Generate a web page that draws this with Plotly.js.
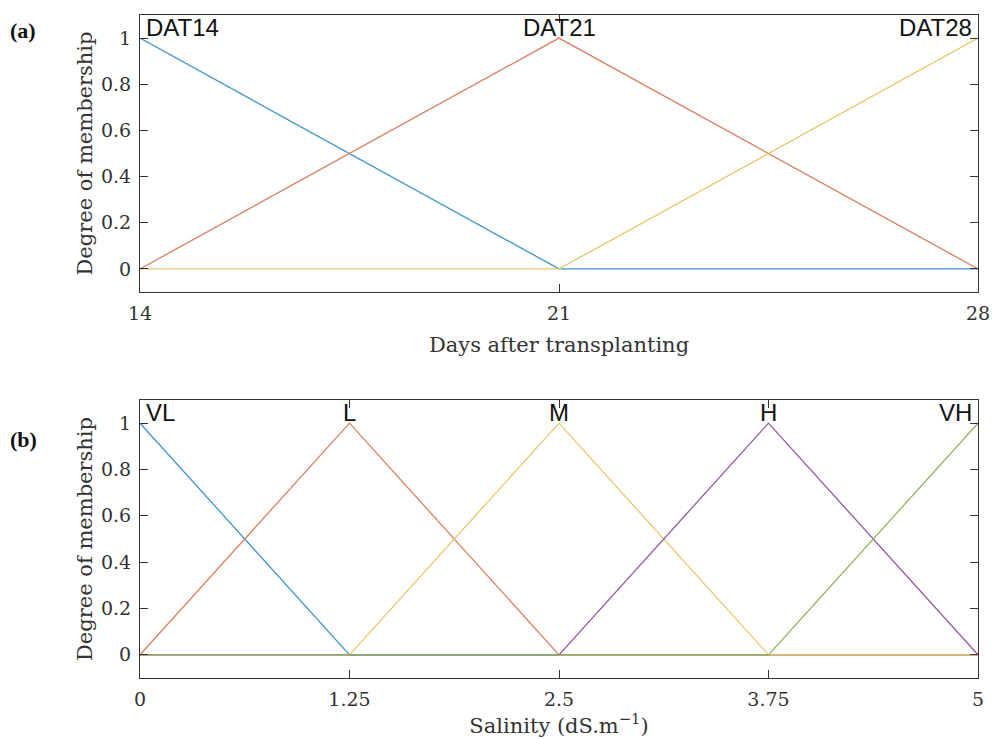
<!DOCTYPE html>
<html><head><meta charset="utf-8">
<script src="https://cdn.plot.ly/plotly-3.0.1.min.js"></script>
<style>html,body{margin:0;padding:0;background:#fff}</style>
</head><body>
<div id="chart" style="width:992px;height:739px"></div>
<script>
// Panel (a): Days after transplanting
const daysX = [14, 21, 28];
const dat14 = [1, 0, 0];
const dat21 = [0, 1, 0];
const dat28 = [0, 0, 1];
const daysNames = ["DAT14", "DAT21", "DAT28"];
const daysTicks = [14, 21, 28];

// Panel (b): Salinity
const salX = [0, 1.25, 2.5, 3.75, 5];
const salVL = [1, 0, 0, 0, 0];
const salL  = [0, 1, 0, 0, 0];
const salM  = [0, 0, 1, 0, 0];
const salH  = [0, 0, 0, 1, 0];
const salVH = [0, 0, 0, 0, 1];
const salNames = ["VL", "L", "M", "H", "VH"];
const salTicks = [0, 1.25, 2.5, 3.75, 5];
const salTickText = ["0", "1.25", "2.5", "3.75", "5"];
const yTicks = [0, 0.2, 0.4, 0.6, 0.8, 1];
const yTickText = ["0", "0.2", "0.4", "0.6", "0.8", "1"];

const colors = ["#3d95c9", "#d8805f", "#e6c86a", "#8f5a9c", "#8fb55a"];

const traces = [];
[dat14, dat21, dat28].forEach((ys, i) => {
  traces.push({x: daysX, y: ys, type: "scatter", mode: "lines", name: daysNames[i],
    line: {color: colors[i], width: 1.3}, xaxis: "x", yaxis: "y", hoverinfo: "skip"});
});
[salVL, salL, salM, salH, salVH].forEach((ys, i) => {
  traces.push({x: salX, y: ys, type: "scatter", mode: "lines", name: salNames[i],
    line: {color: colors[i], width: 1.3}, xaxis: "x2", yaxis: "y2", hoverinfo: "skip"});
});

const serif = "DejaVu Serif";
const tickFont = {family: serif, size: 19, color: "#333"};
const titleFont = {family: serif, size: 21, color: "#333"};
const axCommon = {
  showgrid: false, zeroline: false, showline: true, linecolor: "#333", linewidth: 1,
  mirror: "ticks", ticks: "inside", ticklen: 8, tickcolor: "#333", tickfont: tickFont,
  ticklabelstandoff: 4
};

const anns = [];
const labFont = {family: "Liberation Sans", size: 24, color: "#111"};
daysNames.forEach((n, i) => {
  const xa = i === 0 ? "left" : (i === daysNames.length - 1 ? "right" : "center");
  anns.push({x: daysX[i], y: 1, xref: "x", yref: "y", text: n, showarrow: false,
    xanchor: xa, yanchor: "bottom", yshift: -5, xshift: i === 0 ? 4 : (xa === "right" ? -4 : 0), font: labFont});
});
salNames.forEach((n, i) => {
  const xa = i === 0 ? "left" : (i === salNames.length - 1 ? "right" : "center");
  anns.push({x: salX[i], y: 1, xref: "x2", yref: "y2", text: n, showarrow: false,
    xanchor: xa, yanchor: "bottom", yshift: -5, xshift: i === 0 ? 4 : (xa === "right" ? -4 : 0), font: labFont});
});
const pw = 992 - 140 - 14;
anns.push({x: (8 - 140) / pw, y: 1 - 30/739, xref: "paper", yref: "paper", text: "<b>(a)</b>", showarrow: false,
  xanchor: "left", yanchor: "middle", font: {family: "Liberation Serif", size: 22, color: "#111"}});
anns.push({x: (8 - 140) / pw, y: 1 - 440/739, xref: "paper", yref: "paper", text: "<b>(b)</b>", showarrow: false,
  xanchor: "left", yanchor: "middle", font: {family: "Liberation Serif", size: 22, color: "#111"}});

const layout = {
  width: 992, height: 739,
  margin: {l: 140, r: 14, t: 0, b: 0},
  paper_bgcolor: "#fff", plot_bgcolor: "#fff",
  showlegend: false,
  xaxis: Object.assign({}, axCommon, {domain: [0, 1], anchor: "y", range: [14, 28],
    tickvals: daysTicks, ticktext: daysTicks.map(String),
    title: {text: "Days after transplanting", font: titleFont, standoff: 14}}),
  yaxis: Object.assign({}, axCommon, {domain: [1 - 292/739, 1 - 15/739], anchor: "x", range: [-0.1, 1.1],
    tickvals: yTicks, ticktext: yTickText,
    title: {text: "Degree of membership", font: titleFont, standoff: 2}}),
  xaxis2: Object.assign({}, axCommon, {domain: [0, 1], anchor: "y2", range: [0, 5],
    tickvals: salTicks, ticktext: salTickText,
    title: {text: "Salinity (dS.m<sup>−1</sup>)", font: titleFont, standoff: 6}}),
  yaxis2: Object.assign({}, axCommon, {domain: [1 - 678/739, 1 - 400/739], anchor: "x2", range: [-0.1, 1.1],
    tickvals: yTicks, ticktext: yTickText,
    title: {text: "Degree of membership", font: titleFont, standoff: 2}}),
  annotations: anns
};

Plotly.newPlot("chart", traces, layout, {displayModeBar: false, staticPlot: true});
</script>
</body></html>
